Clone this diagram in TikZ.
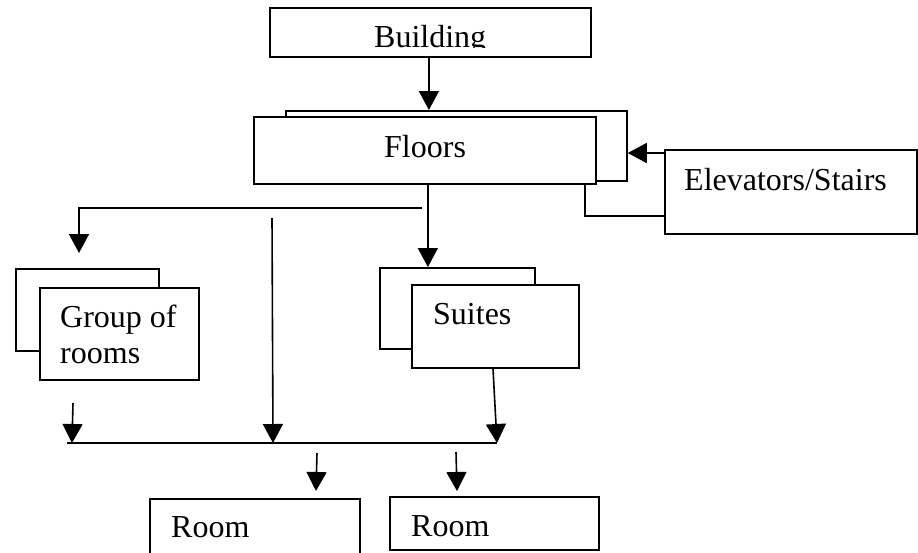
\documentclass[tikz,border=0pt]{standalone}
\usepackage{fontspec}
\setmainfont{Liberation Serif}
\usetikzlibrary{arrows.meta}
\begin{document}
\begin{tikzpicture}[x=1pt,y=-1pt,
  box/.style 2 args={draw, line width=1.8pt, rectangle, inner sep=0pt,
    anchor=north west, fill=white, minimum width=#1pt, minimum height=#2pt},
  lbl/.style={anchor=base west, inner sep=0pt, font=\fontsize{32}{38}\selectfont},
  link/.style={line width=1.6pt},
  arr/.style={link, -{Triangle[length=19pt,width=20pt]}},
]
\clip (0,0) rectangle (918,552);
\fill[white] (0,0) rectangle (918,552);

% boxes (stacked pairs: back card first, front card on top)
\node[box={321}{49}] (building) at (269,7) {};
\node[box={341}{70}] (floorsback) at (285,110) {};
\node[box={342}{67}] (floors) at (253,116) {};
\node[box={252}{84}] (elev) at (664,149) {};
\node[box={143}{82}] (groupback) at (15,268) {};
\node[box={159}{92}] (group) at (39,287) {};
\node[box={155}{81}] (suitesback) at (379,267) {};
\node[box={167}{83}] (suites) at (411,284) {};
\node[box={210}{70}] (room1) at (149,498) {};
\node[box={209}{53}] (room2) at (389,496) {};

% labels
\begin{scope}
  \clip (270,8) rectangle (589,47.5);
  \node[lbl] (tbuilding) at (374,47.5) {Building};
\end{scope}
\node[lbl] (tfloors) at (384,157) {Floors};
\node[lbl] (telev) at (684,190) {Elevators/Stairs};
\node[lbl] (tgroup1) at (60,327) {Group of};
\node[lbl] (tgroup2) at (60,363) {rooms};
\node[lbl] (tsuites) at (433,324) {Suites};
\node[lbl] (troom1) at (171,537) {Room};
\node[lbl] (troom2) at (411,536) {Room};

% free ends of connectors
\coordinate (split) at (422,208);
\coordinate (gtip) at (79,253);
\coordinate (midtop) at (272,218);
\coordinate (bus1) at (67,443);
\coordinate (bus2) at (497,443);
\coordinate (midtip) at (273,443);
\coordinate (ltop) at (73,403);
\coordinate (ltip) at (72,443);
\coordinate (stop) at (493,367);
\coordinate (r1top) at (317,453);
\coordinate (r1tip) at (316,491);
\coordinate (r2top) at (456,452);
\coordinate (r2tip) at (457,491);

% connectors
\draw[arr] ([xshift=-1.5pt]building.south) -- ([xshift=-1.5pt]building.south |- floorsback.north);
\draw[arr] ([yshift=-4pt]elev.north west) coordinate (ea) -- (ea -| floorsback.east);
\draw[link] ([xshift=-12pt]floors.south east) |- ([yshift=-67pt]elev.north west);
\draw[arr] ([xshift=3pt]floors.south) -- ([xshift=3pt]floors.south |- suitesback.north);
\draw[arr] (split) -| (gtip);
\draw[arr] (midtop) -- (midtip);
\draw[link] (bus1) -- (bus2);
\draw[arr] (ltop) -- (ltip);
\draw[arr] ([xshift=82pt]suites.south west) -- (bus2);
\draw[arr] (r1top) -- (r1tip);
\draw[arr] (r2top) -- (r2tip);
\end{tikzpicture}
\end{document}
